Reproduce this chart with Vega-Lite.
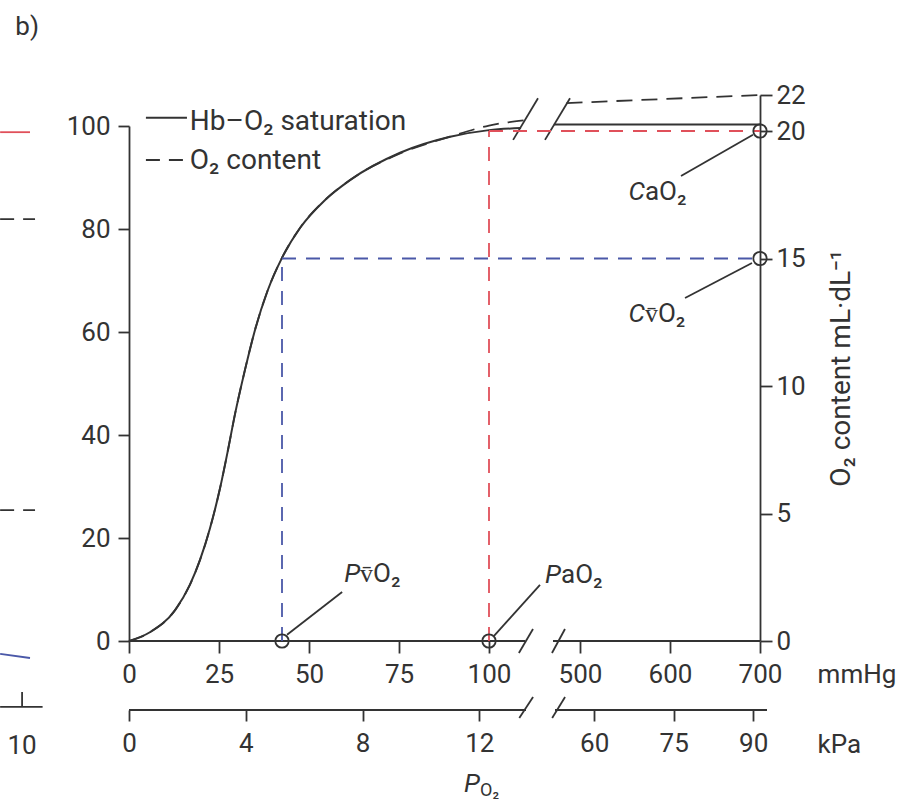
{
  "$schema": "https://vega.github.io/schema/vega-lite/v6.json",
  "width": 631,
  "height": 561,
  "autosize": "none",
  "padding": {"left": 129, "top": 80, "right": 148, "bottom": 164},
  "background": "white",
  "config": {
    "view": {"stroke": null},
    "font": "Roboto",
    "axis": {
      "labelFont": "Roboto", "labelFontSize": 26, "labelColor": "#333333",
      "tickColor": "#333333", "domainColor": "#333333", "tickWidth": 1.8, "domainWidth": 1.8,
      "grid": false, "labelOverlap": false, "labelFlush": false, "labelBound": false,
      "titleFont": "Roboto", "titleFontSize": 28, "titleFontWeight": "normal", "titleColor": "#333333"
    },
    "text": {"font": "Roboto", "color": "#333333"}
  },
  "datasets": {
    "curve": [
      {"p": 0, "s": 0, "seg": "a"},
      {"p": 5.8, "s": 1.7, "seg": "a"},
      {"p": 12.8, "s": 6.0, "seg": "a"},
      {"p": 16.9, "s": 10.9, "seg": "a"},
      {"p": 19.7, "s": 15.7, "seg": "a"},
      {"p": 22.5, "s": 21.9, "seg": "a"},
      {"p": 25.3, "s": 29.7, "seg": "a"},
      {"p": 27.5, "s": 37.1, "seg": "a"},
      {"p": 29.4, "s": 43.9, "seg": "a"},
      {"p": 32.2, "s": 52.6, "seg": "a"},
      {"p": 35.0, "s": 60.4, "seg": "a"},
      {"p": 38.6, "s": 68.2, "seg": "a"},
      {"p": 42.5, "s": 74.4, "seg": "a"},
      {"p": 47.5, "s": 80.2, "seg": "a"},
      {"p": 54.4, "s": 85.6, "seg": "a"},
      {"p": 61.4, "s": 89.5, "seg": "a"},
      {"p": 75.3, "s": 94.8, "seg": "a"},
      {"p": 89.2, "s": 97.9, "seg": "a"},
      {"p": 100, "s": 99.2, "seg": "a"},
      {"p": 108.9, "s": 99.6, "seg": "a"},
      {"p": 471, "s": 100.3, "seg": "b"},
      {"p": 700, "s": 100.3, "seg": "b"}
    ],
    "content": [
      {"p": 0, "c": 0, "seg": "a"},
      {"p": 5.8, "c": 0.34, "seg": "a"},
      {"p": 12.8, "c": 1.21, "seg": "a"},
      {"p": 16.9, "c": 2.2, "seg": "a"},
      {"p": 19.7, "c": 3.17, "seg": "a"},
      {"p": 22.5, "c": 4.42, "seg": "a"},
      {"p": 25.3, "c": 6.0, "seg": "a"},
      {"p": 27.5, "c": 7.49, "seg": "a"},
      {"p": 29.4, "c": 8.87, "seg": "a"},
      {"p": 32.2, "c": 10.63, "seg": "a"},
      {"p": 35.0, "c": 12.2, "seg": "a"},
      {"p": 38.6, "c": 13.78, "seg": "a"},
      {"p": 42.5, "c": 15.03, "seg": "a"},
      {"p": 47.5, "c": 16.2, "seg": "a"},
      {"p": 54.4, "c": 17.29, "seg": "a"},
      {"p": 61.4, "c": 18.08, "seg": "a"},
      {"p": 75.3, "c": 19.12, "seg": "a"},
      {"p": 89.2, "c": 19.78, "seg": "a"},
      {"p": 100, "c": 20.3, "seg": "a"},
      {"p": 110, "c": 20.6, "seg": "a"},
      {"p": 485, "c": 21.55, "seg": "b"},
      {"p": 700, "c": 22.0, "seg": "b"}
    ],
    "guides": [
      {"p": 42.5, "c": 0, "p2": 42.5, "c2": 15, "kind": "venous"},
      {"p": 42.5, "c": 15, "p2": 700, "c2": 15, "kind": "venous"},
      {"p": 100, "c": 0, "p2": 100, "c2": 20, "kind": "arterial"},
      {"p": 100, "c": 20, "p2": 700, "c2": 20, "kind": "arterial"}
    ],
    "points": [
      {"p": 42.5, "c": 0, "name": "PvO2"},
      {"p": 100, "c": 0, "name": "PaO2"},
      {"p": 700, "c": 20, "name": "CaO2"},
      {"p": 700, "c": 15, "name": "CvO2"}
    ],
    "rulesA": [
      {"p": 0, "s": 0, "p2": 110, "s2": 0, "kind": "ink"},
      {"p": 470, "s": 0, "p2": 700, "s2": 0, "kind": "ink"},
      {"p": 108.3, "s": -2.33, "p2": 212.9, "s2": 2.33, "kind": "ink"},
      {"p": 457.1, "s": -2.33, "p2": 483.3, "s2": 2.33, "kind": "ink"},
      {"p": 106.7, "s": 97.3, "p2": 277.1, "s2": 105.4, "kind": "ink"},
      {"p": 367.1, "s": 97.3, "p2": 488.9, "s2": 105.4, "kind": "ink"},
      {"p": 43.9, "s": 1.2, "p2": 59.2, "s2": 9.5, "kind": "ink"},
      {"p": 101.4, "s": 1.0, "p2": 302.9, "s2": 10.9, "kind": "ink"},
      {"p": 692.2, "s": 98.3, "p2": 612.2, "s2": 90.3, "kind": "ink"},
      {"p": 691.1, "s": 73.4, "p2": 616.7, "s2": 66.6, "kind": "ink"},
      {"p": 4.7, "s": 101.6, "p2": 16.1, "s2": 101.6, "kind": "ink"},
      {"p": -35.8, "s": 98.8, "p2": -27.5, "s2": 98.8, "kind": "arterial"},
      {"p": -35.8, "s": -2.5, "p2": -27.5, "s2": -3.3, "kind": "venous"},
      {"p": -35.8, "s": -12.8, "p2": -24.0, "s2": -12.8, "kind": "ink"},
      {"p": -29.7, "s": -9.9, "p2": -29.7, "s2": -12.8, "kind": "ink"}
    ],
    "dashA": [
      {"p": 4.7, "s": 93.4, "p2": 16.1, "s2": 93.4},
      {"p": -35.8, "s": 81.9, "p2": -26.1, "s2": 81.9},
      {"p": -35.8, "s": 25.4, "p2": -26.1, "s2": 25.4}
    ],
    "rulesK": [
      {"k": 0, "s": -13.4, "k2": 13.6, "s2": -13.4},
      {"k": 52.6, "s": -13.4, "k2": 92.6, "s2": -13.4},
      {"k": 13.37, "s": -14.95, "k2": 23.1, "s2": -10.87},
      {"k": 48.8, "s": -14.95, "k2": 54.5, "s2": -10.87}
    ],
    "textCenter": [
      {"p": -28.3, "s": 119.2, "t": "b)"},
      {"p": -29.7, "s": -20.4, "t": "10"}
    ],
    "textLeft": [
      {"p": 764, "s": -8.2, "t": "mmHg"},
      {"p": 764, "s": -21.7, "t": "kPa"},
      {"p": 64.2, "s": 11.5, "t": "v\u0304O\u2082"},
      {"p": 478.9, "s": 11.3, "t": "aO\u2082"},
      {"p": 572.2, "s": 85.6, "t": "aO\u2082"},
      {"p": 572.2, "s": 61.9, "t": "v\u0304O\u2082"}
    ],
    "textItalic": [
      {"p": 64.2, "s": 11.5, "t": "P"},
      {"p": 478.9, "s": 11.3, "t": "P"},
      {"p": 572.2, "s": 85.6, "t": "C"},
      {"p": 572.2, "s": 61.9, "t": "C"},
      {"p": 97.5, "s": -29.3, "t": "P"}
    ],
    "legendText": [
      {"p": 16.9, "s": 99.2, "t": "Hb\u2013O\u2082 saturation"},
      {"p": 16.9, "s": 91.7, "t": "O\u2082 content"}
    ],
    "subText": [
      {"p": 97.5, "s": -30.0, "t": "O\u2082"}
    ]
  },
  "resolve": {"scale": {"x": "independent", "y": "independent"}},
  "layer": [
    {
      "encoding": {
        "x": {"field": "p", "type": "quantitative",
              "scale": {"domain": [0, 110, 470, 700], "range": [0, 396, 424, 631], "nice": false, "zero": false},
              "axis": {"orient": "bottom", "values": [0, 25, 50, 75, 100, 500, 600, 700], "domain": false, "tickSize": 12, "labelPadding": 8, "title": null}},
        "y": {"field": "s", "type": "quantitative",
              "scale": {"domain": [0, 100], "range": [561, 46], "nice": false, "zero": false},
              "axis": {"orient": "left", "values": [0, 20, 40, 60, 80, 100], "tickSize": 11, "labelPadding": 8, "title": null}}
      },
      "layer": [
        {"data": {"name": "curve"}, "mark": {"type": "line", "color": "#333333", "strokeWidth": 2, "interpolate": "monotone"},
         "encoding": {"detail": {"field": "seg"}}},
        {"data": {"name": "rulesA"}, "mark": {"type": "rule", "strokeWidth": 1.8},
         "encoding": {"x2": {"field": "p2"}, "y2": {"field": "s2"},
                      "color": {"field": "kind", "type": "nominal", "legend": null,
                                "scale": {"domain": ["arterial", "venous", "ink"], "range": ["#e0505a", "#4a58a8", "#333333"]}}}},
        {"data": {"name": "dashA"}, "mark": {"type": "rule", "strokeWidth": 1.8, "color": "#333333", "strokeDash": [14, 9]},
         "encoding": {"x2": {"field": "p2"}, "y2": {"field": "s2"}}},
        {"data": {"name": "textCenter"}, "mark": {"type": "text", "fontSize": 26, "align": "center", "baseline": "middle"},
         "encoding": {"text": {"field": "t"}}},
        {"data": {"name": "textLeft"}, "mark": {"type": "text", "fontSize": 26, "align": "left", "baseline": "alphabetic"},
         "encoding": {"text": {"field": "t"}}},
        {"data": {"name": "textItalic"}, "mark": {"type": "text", "fontSize": 26, "fontStyle": "italic", "align": "right", "baseline": "alphabetic"},
         "encoding": {"text": {"field": "t"}}},
        {"data": {"name": "legendText"}, "mark": {"type": "text", "fontSize": 28, "align": "left", "baseline": "alphabetic"},
         "encoding": {"text": {"field": "t"}}},
        {"data": {"name": "subText"}, "mark": {"type": "text", "fontSize": 18, "align": "left", "baseline": "alphabetic"},
         "encoding": {"text": {"field": "t"}}}
      ]
    },
    {
      "encoding": {
        "x": {"field": "p", "type": "quantitative",
              "scale": {"domain": [0, 110, 470, 700], "range": [0, 396, 424, 631], "nice": false, "zero": false},
              "axis": null},
        "y": {"field": "c", "type": "quantitative",
              "scale": {"domain": [0, 20, 22], "range": [561, 51, 15], "nice": false, "zero": false},
              "axis": {"orient": "right", "values": [0, 5, 10, 15, 20, 22], "tickSize": 12, "labelPadding": 4,
                       "title": "O\u2082 content mL\u00b7dL\u207b\u00b9", "titleAngle": 270, "titleBaseline": "top", "titlePadding": 22}}
      },
      "layer": [
        {"data": {"name": "content"}, "mark": {"type": "line", "color": "#333333", "strokeWidth": 1.8, "strokeDash": [16, 9], "interpolate": "monotone"},
         "encoding": {"detail": {"field": "seg"}}},
        {"data": {"name": "guides"}, "mark": {"type": "rule", "strokeWidth": 1.8, "strokeDash": [14, 10]},
         "encoding": {"x2": {"field": "p2"}, "y2": {"field": "c2"},
                      "color": {"field": "kind", "type": "nominal", "legend": null,
                                "scale": {"domain": ["arterial", "venous", "ink"], "range": ["#e0505a", "#4a58a8", "#333333"]}}}},
        {"data": {"name": "points"}, "mark": {"type": "point", "shape": "circle", "filled": false, "size": 180, "strokeWidth": 1.8, "color": "#333333", "opacity": 1}}
      ]
    },
    {
      "data": {"name": "rulesK"},
      "mark": {"type": "rule", "strokeWidth": 1.8, "color": "#333333"},
      "encoding": {
        "x": {"field": "k", "type": "quantitative",
              "scale": {"domain": [0, 13.6, 52.6, 92.6], "range": [0, 397, 426, 638], "nice": false, "zero": false},
              "axis": {"orient": "bottom", "offset": 69, "values": [0, 4, 8, 12, 60, 75, 90], "domain": false, "tickSize": 11, "labelPadding": 9, "title": null}},
        "x2": {"field": "k2"},
        "y": {"field": "s", "type": "quantitative",
              "scale": {"domain": [0, 100], "range": [561, 46], "nice": false, "zero": false},
              "axis": null},
        "y2": {"field": "s2"}
      }
    }
  ]
}
